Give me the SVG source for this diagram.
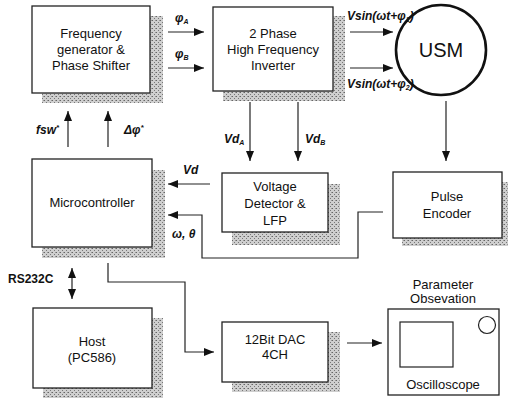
<svg xmlns="http://www.w3.org/2000/svg" width="508" height="411" viewBox="0 0 508 411">
<defs>
<pattern id="stip" width="4" height="4" patternUnits="userSpaceOnUse">
<rect width="4" height="4" fill="#cfcfcf"/>
<rect x="0" y="0" width="1" height="1" fill="#666"/>
<rect x="2" y="2" width="1" height="1" fill="#777"/>
<rect x="3" y="0" width="1" height="1" fill="#999"/>
</pattern>
<marker id="ah" viewBox="0 0 10 8" refX="10" refY="4" markerWidth="10" markerHeight="8" markerUnits="userSpaceOnUse" orient="auto-start-reverse">
<path d="M0,0 L10,4 L0,8 Z" fill="#111"/>
</marker>
</defs>
<style>
.box{fill:#fff;stroke:#222;stroke-width:1.3}
.sh{fill:url(#stip)}
.t{font-family:"Liberation Sans",Arial,sans-serif;font-size:13px;fill:#111;text-anchor:middle}
.l{font-family:"Liberation Sans",Arial,sans-serif;font-size:12px;font-style:italic;font-weight:bold;fill:#111}
.c{fill:none;stroke:#222;stroke-width:1.2}
.a{marker-end:url(#ah)}
</style>
<rect width="508" height="411" fill="#fff"/>

<g id="freqgen">
<rect class="sh" x="42" y="16" width="121" height="87"/>
<rect class="box" x="32" y="6" width="118" height="87"/>
<text class="t" x="91" y="38">Frequency</text>
<text class="t" x="91" y="54">generator &amp;</text>
<text class="t" x="91" y="70">Phase Shifter</text>
</g>

<g id="inverter">
<rect class="sh" x="223" y="16" width="122" height="85"/>
<rect class="box" x="213" y="7" width="120" height="84"/>
<text class="t" x="273" y="38">2 Phase</text>
<text class="t" x="273" y="54">High Frequency</text>
<text class="t" x="273" y="70">Inverter</text>
</g>

<g id="usm">
<circle cx="441" cy="50" r="45" fill="#fff" stroke="#111" stroke-width="2.6"/>
<text class="t" x="441" y="57" style="font-size:20px">USM</text>
</g>

<g id="microcontroller">
<rect class="sh" x="42" y="170" width="123" height="88"/>
<rect class="box" x="32" y="159" width="120" height="88"/>
<text class="t" x="92" y="207">Microcontroller</text>
</g>

<g id="voltdet">
<rect class="sh" x="232" y="184" width="108" height="61"/>
<rect class="box" x="222" y="173" width="106" height="59"/>
<text class="t" x="275" y="191">Voltage</text>
<text class="t" x="275" y="208">Detector &amp;</text>
<text class="t" x="275" y="225">LFP</text>
</g>

<g id="encoder">
<rect class="sh" x="402" y="182" width="106" height="64"/>
<rect class="box" x="393" y="172" width="109" height="66"/>
<text class="t" x="447" y="201">Pulse</text>
<text class="t" x="447" y="218">Encoder</text>
</g>

<g id="host">
<rect class="sh" x="43" y="318" width="120" height="80"/>
<rect class="box" x="33" y="308" width="119" height="80"/>
<text class="t" x="92" y="346">Host</text>
<text class="t" x="92" y="362">(PC586)</text>
</g>

<g id="dac">
<rect class="sh" x="232" y="332" width="108" height="60"/>
<rect class="box" x="222" y="322" width="106" height="60"/>
<text class="t" x="275" y="344">12Bit DAC</text>
<text class="t" x="275" y="359">4CH</text>
</g>

<g id="oscilloscope">
<text class="t" x="443" y="289">Parameter</text>
<text class="t" x="443" y="303">Obsevation</text>
<rect class="box" x="388" y="309" width="111" height="86"/>
<rect x="400" y="322" width="53" height="45" fill="#fff" stroke="#222" stroke-width="1.2"/>
<circle cx="487" cy="325" r="8.5" fill="#fff" stroke="#222" stroke-width="1.2"/>
<text class="t" x="443" y="389">Oscilloscope</text>
</g>

<g id="connectors">
<line class="c a" x1="168" y1="32" x2="204" y2="32"/>
<line class="c a" x1="168" y1="68" x2="204" y2="68"/>
<line class="c a" x1="350" y1="32" x2="393" y2="32"/>
<line class="c a" x1="350" y1="68" x2="393" y2="68"/>
<line class="c a" x1="446" y1="101" x2="446" y2="161"/>
<line class="c a" x1="250" y1="102" x2="250" y2="161"/>
<line class="c a" x1="298" y1="102" x2="298" y2="161"/>
<line class="c a" x1="210" y1="184" x2="168" y2="184"/>
<polyline class="c a" points="383,212 358,212 358,258 202,258 202,215 168,215"/>
<line class="c a" x1="68" y1="147" x2="68" y2="111"/>
<line class="c a" x1="108" y1="147" x2="108" y2="111"/>
<line class="c a" x1="72" y1="268" x2="72" y2="299" style="marker-start:url(#ah)"/>
<polyline class="c a" points="108,263 108,282 185,282 185,352 214,352"/>
<line class="c a" x1="347" y1="343" x2="382" y2="343"/>
</g>

<g id="labels">
<text class="l" x="175" y="22">φ<tspan font-size="7" dy="2">A</tspan></text>
<text class="l" x="175" y="58">φ<tspan font-size="7" dy="2">B</tspan></text>
<text class="l" x="347" y="20">Vsin(ωt+φ<tspan font-size="7" dy="2">1</tspan><tspan dy="-2">)</tspan></text>
<text class="l" x="347" y="88">Vsin(ωt+φ<tspan font-size="7" dy="2">2</tspan><tspan dy="-2">)</tspan></text>
<text class="l" x="224" y="143">Vd<tspan font-size="7" dy="2">A</tspan></text>
<text class="l" x="305" y="143">Vd<tspan font-size="7" dy="2">B</tspan></text>
<text class="l" x="183" y="174">Vd</text>
<text class="l" x="172" y="238">ω, θ</text>
<text class="l" x="36" y="134">fsw<tspan font-size="8" dy="-4">*</tspan></text>
<text class="l" x="124" y="134">Δφ<tspan font-size="8" dy="-4">*</tspan></text>
<text x="8" y="283" style="font-family:'Liberation Sans',Arial,sans-serif;font-size:12px;font-weight:bold;fill:#111">RS232C</text>
</g>
</svg>
